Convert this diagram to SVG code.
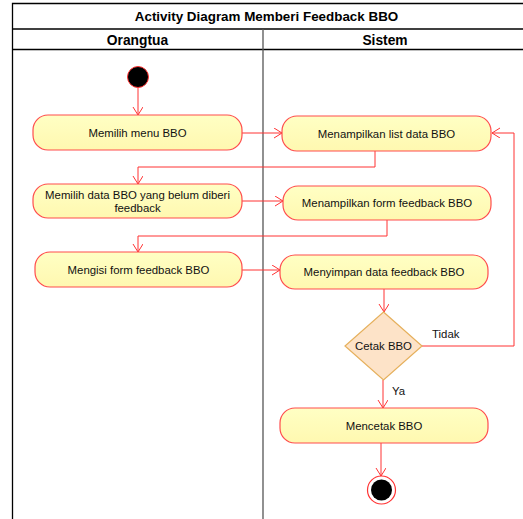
<svg xmlns="http://www.w3.org/2000/svg" width="523" height="519" viewBox="0 0 523 519">
<defs>
<marker id="arr" markerWidth="12" markerHeight="12" refX="9" refY="5" orient="auto" markerUnits="userSpaceOnUse">
<path d="M1,0 L9,5 L1,10" fill="none" stroke="#ff3333" stroke-width="1"/>
</marker>
<linearGradient id="ng" x1="0" y1="0" x2="0" y2="1">
<stop offset="0" stop-color="#ffffc4"/>
<stop offset="1" stop-color="#fff8b0"/>
</linearGradient>
</defs>
<style>
.frame{fill:none;stroke:#000;stroke-width:1.3}
.div{stroke:#555;stroke-width:1.3}
.title{font-family:"Liberation Sans",Arial,sans-serif;font-weight:bold;font-size:13.4px;fill:#000;text-anchor:middle}
.hdr{font-family:"Liberation Sans",Arial,sans-serif;font-weight:bold;font-size:13.8px;fill:#000;text-anchor:middle}
.act{fill:url(#ng);stroke:#ff4d4d;stroke-width:1.2}
.t{font-family:"Liberation Sans",Arial,sans-serif;font-size:11.4px;fill:#111;text-anchor:middle}
.lbl{font-family:"Liberation Sans",Arial,sans-serif;font-size:11.4px;fill:#111}
.c{fill:none;stroke:#ff3333;stroke-width:1}
</style>
<rect x="0" y="0" width="523" height="519" fill="#fff"/>
<g id="frame">
<path class="frame" d="M12.5,530 V3.5 H530"/>
<line class="frame" x1="12.5" y1="29" x2="530" y2="29" stroke="#555"/>
<line class="frame" x1="12.5" y1="49.5" x2="530" y2="49.5" stroke="#555"/>
<line class="div" x1="263" y1="29" x2="263" y2="530"/>
<text class="title" x="266.5" y="21">Activity Diagram Memberi Feedback BBO</text>
<text class="hdr" x="137.5" y="45">Orangtua</text>
<text class="hdr" x="385" y="45">Sistem</text>
</g>
<g id="connectors">
<path class="c" d="M138,87 V115" marker-end="url(#arr)"/>
<path class="c" d="M242,133 H282" marker-end="url(#arr)"/>
<path class="c" d="M375,151 V167 H138 V184" marker-end="url(#arr)"/>
<path class="c" d="M242,201 H283" marker-end="url(#arr)"/>
<path class="c" d="M387,220 V236 H138 V252" marker-end="url(#arr)"/>
<path class="c" d="M242,270 H280" marker-end="url(#arr)"/>
<path class="c" d="M384,289 V312" marker-end="url(#arr)"/>
<path class="c" d="M422,346 H514 V133 H492" marker-end="url(#arr)"/>
<path class="c" d="M383,380 V408" marker-end="url(#arr)"/>
<path class="c" d="M381,443 V476" marker-end="url(#arr)"/>
<text class="lbl" x="432" y="338">Tidak</text>
<text class="lbl" x="392" y="395">Ya</text>
</g>
<g id="start">
<circle cx="138" cy="77" r="10.5" fill="#000" stroke="#ff3333" stroke-width="1"/>
</g>
<g id="n1">
<rect class="act" x="33" y="115" width="209" height="35" rx="15"/>
<text class="t" x="137.5" y="137">Memilih menu BBO</text>
</g>
<g id="n2">
<rect class="act" x="33" y="184" width="209" height="34" rx="15"/>
<text class="t" x="137.5" y="199">Memilih data BBO yang belum diberi</text>
<text class="t" x="137.5" y="212">feedback</text>
</g>
<g id="n3">
<rect class="act" x="35" y="252" width="207" height="35" rx="15"/>
<text class="t" x="138.5" y="274">Mengisi form feedback BBO</text>
</g>
<g id="n4">
<rect class="act" x="282" y="116" width="209" height="35" rx="15"/>
<text class="t" x="386.5" y="138">Menampilkan list data BBO</text>
</g>
<g id="n5">
<rect class="act" x="283" y="186" width="208" height="34" rx="15"/>
<text class="t" x="387" y="207">Menampilkan form feedback BBO</text>
</g>
<g id="n6">
<rect class="act" x="280" y="255" width="208" height="34" rx="15"/>
<text class="t" x="384" y="276">Menyimpan data feedback BBO</text>
</g>
<g id="decision">
<path d="M383.5,312 L422,346 L383.5,380 L345,346 Z" fill="#fde3c8" stroke="#e6b05c" stroke-width="1.2"/>
<text class="t" x="383.5" y="350">Cetak BBO</text>
</g>
<g id="n7">
<rect class="act" x="280" y="408" width="208" height="35" rx="15"/>
<text class="t" x="384" y="430">Mencetak BBO</text>
</g>
<g id="end">
<circle cx="381.5" cy="490" r="14" fill="#fff" stroke="#ff3333" stroke-width="1.2"/>
<circle cx="381.5" cy="490" r="10.5" fill="#000"/>
</g>
</svg>
